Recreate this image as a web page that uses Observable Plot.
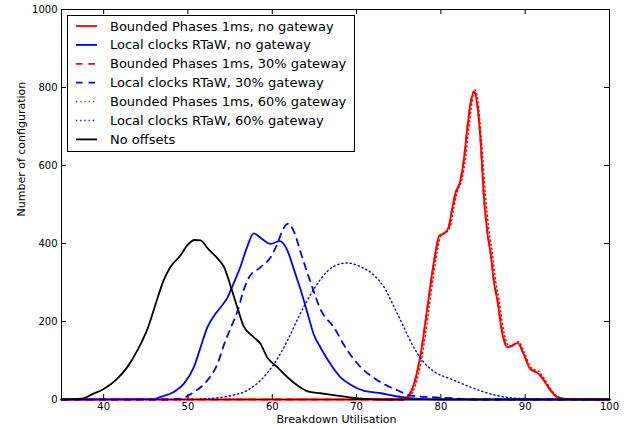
<!DOCTYPE html>
<html>
<head>
<meta charset="utf-8">
<script src="https://cdn.jsdelivr.net/npm/d3@7"></script>
<script src="https://cdn.jsdelivr.net/npm/@observablehq/plot@0.6"></script>
<style>
  body { margin: 0; background: white; font-family: "DejaVu Sans", sans-serif; }
  #wrap { position: relative; width: 639px; height: 429px; }
  #legend { position: absolute; left: 67px; top: 15px; }
</style>
</head>
<body>
<div id="wrap"></div>
<script>
// ---- data ----
const xTicks = [40, 50, 60, 70, 80, 90, 100];
const yTicks = [0, 200, 400, 600, 800, 1000];
const xLabel = "Breakdown Utilisation";
const yLabel = "Number of configuration";

const seriesNames = [
  "Bounded Phases 1ms, no gateway",
  "Local clocks RTaW, no gateway",
  "Bounded Phases 1ms, 30% gateway",
  "Local clocks RTaW, 30% gateway",
  "Bounded Phases 1ms, 60% gateway",
  "Local clocks RTaW, 60% gateway",
  "No offsets"
];

// Bounded Phases 1ms, no gateway
const bpNoX = [35,75.5,76,76.8,77.6,78.4,79,79.4,79.8,80.4,80.9,81.3,81.7,82.3,82.7,83.1,83.5,83.9,84.3,84.7,85.1,85.5,85.9,86.3,86.7,87.3,87.9,88.5,89.1,89.8,90.6,91.6,92.2,93,93.8,95,100];
const bpNoY = [0,0,6,40,117,237,330,382,420,426,441,485,527,561,612,690,758,788,758,664,519,430,374,300,254,168,134,138,145,117,78,66,49,23,6,1,0];

// Local clocks RTaW, no gateway
const lcNoX = [35,46,46.7,48.3,49.5,50.7,51.5,52.3,53.1,53.9,54.7,55.4,56.2,57.0,57.8,58.7,59.8,60.9,61.8,62.6,63.4,64.2,64.9,65.7,66.9,68.1,69.3,70.9,72.9,74.5,76.1,78,80,100];
const lcNoY = [0,1,6,19,40,83,134,185,215,237,262,297,339,390,426,413,399,406,382,331,279,220,168,134,91,57,38,22,16,9,4,1,0,0];

// Bounded Phases 1ms, 30% gateway
const bp30X = [35,75.5,76,76.8,77.6,78.4,79,79.4,79.8,80.4,80.9,81.3,81.7,82.3,82.7,83.1,83.5,83.9,84.3,84.7,85.1,85.5,85.9,86.3,86.7,87.3,87.9,88.5,89.1,89.8,90.6,91.6,92.2,93,93.8,95,100];
const bp30Y = [0,0,5,38,115,235,328,380,419,427,440,484,526,560,611,689,757,790,760,666,521,432,376,302,256,170,135,139,146,118,79,67,50,24,6,1,0];

// Local clocks RTaW, 30% gateway
const lc30X = [35,48,49.1,50.7,52.3,53.5,54.3,55.1,55.9,56.6,57.3,58.6,59.8,60.6,61.2,61.9,62.6,63.4,64.6,65.8,67.3,68.9,70.5,72.5,74.9,76.5,78.9,81.6,84,100];
const lc30Y = [0,0,2,19,49,91,142,185,228,280,315,339,365,399,433,451,429,375,297,228,185,126,83,49,23,10,6,3,0,0];

// Bounded Phases 1ms, 60% gateway
const bp60X = [35,75.7,76.2,77,77.8,78.6,79.2,79.6,80,80.6,81.1,81.5,81.9,82.5,82.9,83.3,83.7,84.0,84.4,84.8,85.3,85.7,86.1,86.5,86.9,87.5,88.1,88.6,89.2,89.9,90.7,91.7,92.3,93.1,93.9,95.1,100];
const bp60Y = [0,0,5,38,115,235,330,383,421,428,443,487,530,565,615,693,762,795,765,668,522,433,377,303,256,170,137,141,148,120,82,70,52,25,7,1,0];

// Local clocks RTaW, 60% gateway
const lc60X = [35,50,52.3,55.1,57,58.6,60.2,61.8,63.2,64.9,66.5,68.1,68.9,70.5,72.1,73.2,74.5,75.5,76.5,77.8,79.3,80.9,82.8,85,88.4,90.4,93,100];
const lc60Y = [0,0,2,10,23,49,91,151,215,282,328,348,350,340,318,290,235,190,145,100,70,55,38,20,4,2,0,0];

// No offsets
const noOffX = [35,37.3,38.8,40,41.6,42.8,44,45.2,46.3,47.1,47.9,49.1,49.9,50.8,51.5,52.4,53.5,54.3,55.1,55.9,56.6,57.8,58.6,59.4,60.6,61.8,63,64.2,65.7,67.7,69.7,71.5,73,100];
const noOffY = [0,2,15,27,53,83,126,181,254,305,339,369,395,409,408,386,362,339,288,233,188,160,143,108,83,57,36,21,16,10,4,1,0,0];

const seriesColors = ["#ff0000", "#0000ff", "#ff0000", "#0000ff", "#ff0000", "#0000ff", "#000000"];
const seriesDash = [null, null, "6.5,6", "6.5,6", "1.2,3", "1.2,3", null];
const seriesWidth = [1.8, 1.8, 1.8, 1.8, 1.4, 1.4, 1.8];

const seriesXs = [bpNoX, lcNoX, bp30X, lc30X, bp60X, lc60X, noOffX];
const seriesYs = [bpNoY, lcNoY, bp30Y, lc30Y, bp60Y, lc60Y, noOffY];

// ---- chart ----
const W = 639, H = 429;
const mL = 61, mR = 30, mT = 9, mB = 30;
const innerW = W - mL - mR, innerH = H - mT - mB;
const tickLen = 5;

const lineMarks = seriesNames.map((name, i) => {
  const rows = seriesXs[i].map((x, j) => ({x, y: seriesYs[i][j]}));
  return Plot.line(rows, {
    x: "x", y: "y",
    stroke: seriesColors[i],
    strokeWidth: seriesWidth[i],
    strokeDasharray: seriesDash[i] ?? undefined,
    curve: "monotone-x"
  });
});

const chart = Plot.plot({
  width: W, height: H,
  marginLeft: mL, marginRight: mR, marginTop: mT, marginBottom: mB,
  style: {fontFamily: "DejaVu Sans", fontSize: "10px", color: "black", background: "white"},
  x: {domain: [35, 100]},
  y: {domain: [0, 1000]},
  marks: [
    ...lineMarks,
    Plot.frame({stroke: "black", strokeWidth: 1}),
    Plot.ruleX(xTicks, {x: d => d, insetTop: innerH - tickLen, stroke: "black"}),
    Plot.ruleX(xTicks, {x: d => d, insetBottom: innerH - tickLen, stroke: "black"}),
    Plot.ruleY(yTicks, {y: d => d, insetRight: innerW - tickLen, stroke: "black"}),
    Plot.ruleY(yTicks, {y: d => d, insetLeft: innerW - tickLen, stroke: "black"}),
    Plot.axisX({ticks: xTicks, tickSize: 0, tickPadding: 3, tickFormat: d => String(d), label: null}),
    Plot.axisY({ticks: yTicks, tickSize: 0, tickPadding: 4, tickFormat: d => String(d), label: null}),
    Plot.text([xLabel], {frameAnchor: "bottom", dy: 23, dx: 1, fontSize: 11, fill: "black"}),
    Plot.text([yLabel], {frameAnchor: "left", rotate: -90, dx: -40, dy: 12, fontSize: 11, fill: "black"})
  ]
});

const wrap = document.getElementById("wrap");
wrap.appendChild(chart);

// ---- legend overlay ----
const LW = 288, LH = 137, rowH = 18.9, row0 = 11;
const leg = d3.create("svg")
  .attr("id", "legend")
  .attr("width", LW).attr("height", LH)
  .style("font-family", "DejaVu Sans")
  .style("font-size", "13px");
leg.append("rect")
  .attr("x", 0.5).attr("y", 0.5)
  .attr("width", LW - 1).attr("height", LH - 1)
  .attr("fill", "white").attr("stroke", "black");
seriesNames.forEach((name, i) => {
  const cy = row0 + i * rowH;
  leg.append("line")
    .attr("x1", 9).attr("x2", 30).attr("y1", cy).attr("y2", cy)
    .attr("stroke", seriesColors[i])
    .attr("stroke-width", seriesWidth[i])
    .attr("stroke-dasharray", seriesDash[i]);
  leg.append("text")
    .attr("x", 43).attr("y", cy).attr("dy", "0.35em")
    .attr("fill", "black")
    .text(name);
});
wrap.appendChild(leg.node());
</script>
</body>
</html>
